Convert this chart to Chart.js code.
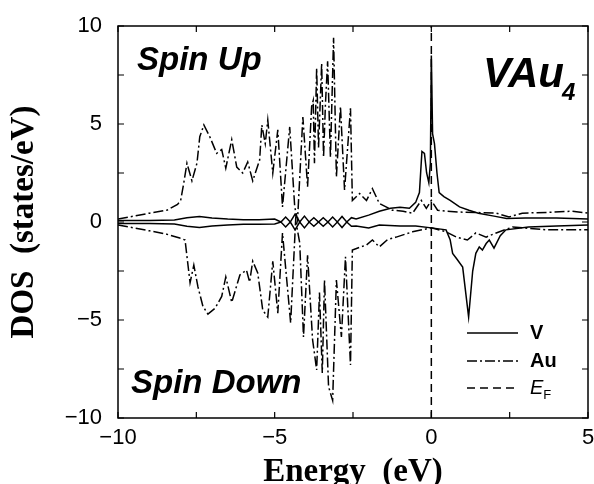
<!DOCTYPE html>
<html>
<head>
<meta charset="utf-8">
<script src="https://cdn.jsdelivr.net/npm/chart.js@4"></script>
<style>
  html, body { margin: 0; padding: 0; background: #fff; }
  #wrap { width: 594px; height: 484px; }
</style>
</head>
<body>
<div id="wrap"><canvas id="dosChart" width="594" height="484"></canvas></div>
<script>
// axis ticks
const xTicks = [-10, -5, 0, 5];
const yTicks = [-10, -5, 0, 5, 10];

// V, spin up
const vUpE = [-10, -9, -8.2, -7.8, -7.4, -7.0, -6.5, -6.0, -5.5, -5.0,
  -4.8, -4.65, -4.5, -4.35, -4.2, -4.05, -3.9, -3.75, -3.6, -3.45, -3.3, -3.15, -3.0, -2.85, -2.7, -2.55,
  -2.4, -2.0, -1.66, -1.3, -1.0, -0.7, -0.5, -0.38, -0.3, -0.22, -0.15, -0.08, -0.03, 0.0, 0.04, 0.1,
  0.18, 0.25, 0.4, 0.6, 0.9, 1.2, 1.5, 2.0, 2.4, 3.0, 4.0, 5.0];
const vUpY = [0.08, 0.08, 0.1, 0.22, 0.28, 0.2, 0.15, 0.12, 0.12, 0.15,
  0.0, 0.25, 0.0, 0.4, 0.0, 0.3, 0.0, 0.22, 0.0, 0.22, 0.0, 0.25, 0.0, 0.28, 0.0, 0.22,
  0.15, 0.35, 0.55, 0.7, 0.75, 0.7, 1.0, 1.5, 3.6, 3.5, 2.5, 2.0, 3.0, 8.5, 4.5, 4.0,
  2.5, 1.5, 1.3, 1.1, 0.77, 0.6, 0.45, 0.3, 0.18, 0.2, 0.2, 0.15];

// V, spin down
const vDnE = [-10, -9, -8.2, -7.8, -7.4, -7.0, -6.5, -6.0, -5.5, -5.0,
  -4.8, -4.65, -4.5, -4.35, -4.2, -4.05, -3.9, -3.75, -3.6, -3.45, -3.3, -3.15, -3.0, -2.85, -2.7, -2.55,
  -2.4, -2.0, -1.66, -1.0, -0.5, 0.0, 0.47, 0.6, 0.68, 0.82, 1.0, 1.19, 1.32, 1.42, 1.53, 1.63,
  1.75, 1.85, 2.0, 2.2, 2.38, 3.1, 4.0, 5.0];
const vDnY = [-0.08, -0.08, -0.1, -0.22, -0.28, -0.2, -0.15, -0.12, -0.12, -0.1,
  0.0, -0.25, 0.0, -0.4, 0.0, -0.3, 0.0, -0.22, 0.0, -0.22, 0.0, -0.25, 0.0, -0.28, 0.0, -0.22,
  -0.2, -0.3, -0.15, -0.2, -0.2, -0.3, -0.4, -0.9, -1.6, -1.9, -2.3, -4.85, -2.5, -1.6, -1.27, -1.43,
  -1.1, -0.92, -1.33, -0.7, -0.4, -0.25, -0.2, -0.15];

// Au, spin up
const auUpE = [-10, -9.5, -9, -8.44, -8.1, -8.0, -7.9, -7.8, -7.64, -7.48, -7.39, -7.26, -7.07, -6.85,
  -6.69, -6.56, -6.37, -6.21, -6.02, -5.86, -5.7, -5.48, -5.41, -5.3, -5.22, -5.06, -4.9, -4.75, -4.52,
  -4.36, -4.27, -4.1, -3.95, -3.82, -3.77, -3.73, -3.66, -3.6, -3.5, -3.44, -3.38, -3.31, -3.22, -3.12,
  -3.03, -2.9, -2.77, -2.58, -2.52, -2.29, -2.07, -1.88, -1.66, -1.24, -0.9, -0.6, -0.32, -0.16, 0.0,
  0.2, 0.5, 1.0, 1.5, 2.07, 2.48, 2.9, 3.85, 4.5, 5.0];
const auUpY = [0.15, 0.3, 0.45, 0.6, 0.9, 1.1, 2.0, 3.0, 2.1, 3.0, 4.35, 4.95, 4.35, 3.5,
  3.7, 2.75, 4.2, 2.8, 2.5, 3.06, 2.1, 3.16, 4.95, 4.0, 5.2, 2.5, 4.7, 0.77, 4.85,
  0.77, 0.1, 5.36, 1.8, 5.9, 6.2, 3.0, 7.85, 3.8, 8.1, 3.3, 6.0, 8.2, 3.3, 9.4,
  2.3, 5.9, 1.63, 5.8, 1.1, 1.45, 1.1, 1.7, 0.95, 0.6, 0.55, 0.45, 1.1, 0.7, 1.1,
  0.6, 0.55, 0.5, 0.48, 0.45, 0.26, 0.45, 0.5, 0.55, 0.45];

// Au, spin down
const auDnE = [-10, -9.5, -9, -8.5, -8.03, -7.86, -7.7, -7.58, -7.45, -7.29, -7.13, -6.9, -6.69, -6.56,
  -6.37, -6.11, -5.9, -5.8, -5.7, -5.54, -5.38, -5.22, -5.06, -4.9, -4.75, -4.49, -4.33, -4.2, -4.08,
  -3.95, -3.79, -3.66, -3.57, -3.48, -3.41, -3.28, -3.15, -3.03, -2.87, -2.74, -2.58, -2.52, -2.3,
  -2.07, -1.88, -1.66, -1.4, -1.12, -0.6, 0.0, 0.47, 0.8, 1.15, 1.42, 1.75, 2.07, 2.6, 3.66, 5.0];
const auDnY = [-0.15, -0.3, -0.45, -0.6, -0.82, -0.92, -3.1, -2.2, -3.3, -4.3, -4.7, -4.4, -3.8, -2.8,
  -4.1, -2.7, -2.45, -3.06, -2.0, -2.6, -4.5, -4.85, -2.0, -4.65, -0.56, -5.15, 0.1, -1.07, -5.87,
  -1.7, -6.0, -7.55, -3.6, -7.7, -2.96, -8.4, -9.1, -2.96, -5.87, -1.78, -7.3, -1.43, -1.3,
  -1.17, -0.92, -1.27, -0.9, -0.77, -0.5, -0.3, -0.5, -0.77, -0.92, -0.56, -0.77, -0.56, -0.25, -0.4, -0.4];

// Fermi level
const fermiE = [0, 0];
const fermiY = [-10, 10];

const pts = (xs, ys) => xs.map((x, i) => ({ x: x, y: ys[i] }));
const dashDot = [10, 3, 2, 3];
const dashed = [8, 5];

const frame = {
  id: 'frame',
  afterDraw(chart) {
    const { ctx, chartArea: a, scales: { x, y } } = chart;
    ctx.save();
    ctx.strokeStyle = '#000';
    ctx.lineWidth = 1.5;
    ctx.strokeRect(a.left, a.top, a.right - a.left, a.bottom - a.top);
    ctx.lineWidth = 1.2;
    ctx.beginPath();
    for (let v = -10; v <= 5.001; v += 2.5) {
      const px = x.getPixelForValue(v);
      ctx.moveTo(px, a.bottom); ctx.lineTo(px, a.bottom - 6);
      ctx.moveTo(px, a.top); ctx.lineTo(px, a.top + 6);
    }
    for (let v = -10; v <= 10.001; v += 2.5) {
      const py = y.getPixelForValue(v);
      ctx.moveTo(a.left, py); ctx.lineTo(a.left + 6, py);
      ctx.moveTo(a.right, py); ctx.lineTo(a.right - 6, py);
    }
    ctx.stroke();

    // annotations
    ctx.fillStyle = '#000';
    ctx.textBaseline = 'alphabetic';
    ctx.font = 'italic bold 33px "Liberation Sans", Arial, sans-serif';
    ctx.fillText('Spin Up', 137, 70);
    ctx.fillText('Spin Down', 131, 393);
    ctx.font = 'italic bold 42px "Liberation Sans", Arial, sans-serif';
    ctx.fillText('VAu', 483, 87);
    const w = ctx.measureText('VAu').width;
    ctx.font = 'italic bold 24px "Liberation Sans", Arial, sans-serif';
    ctx.fillText('4', 483 + w - 2, 100);

    // legend
    const rows = [
      { dash: [], label: 'V', y: 333 },
      { dash: dashDot, label: 'Au', y: 361 },
      { dash: dashed, label: 'E', sub: 'F', y: 388 }
    ];
    rows.forEach(r => {
      ctx.setLineDash(r.dash);
      ctx.lineWidth = 1.5;
      ctx.beginPath();
      ctx.moveTo(467, r.y); ctx.lineTo(518, r.y);
      ctx.stroke();
      ctx.setLineDash([]);
      ctx.textBaseline = 'middle';
      if (r.sub) {
        ctx.font = 'italic 20px "Liberation Sans", Arial, sans-serif';
        ctx.fillText(r.label, 530, r.y);
        const lw = ctx.measureText(r.label).width;
        ctx.font = '13px "Liberation Sans", Arial, sans-serif';
        ctx.fillText(r.sub, 530 + lw, r.y + 7);
      } else {
        ctx.font = 'bold 20px "Liberation Sans", Arial, sans-serif';
        ctx.fillText(r.label, 530, r.y);
      }
    });
    ctx.restore();
  }
};

const minus = v => (v < 0 ? '\u2212' + Math.abs(v) : String(v));

new Chart(document.getElementById('dosChart'), {
  type: 'line',
  data: {
    datasets: [
      { label: 'V up', data: pts(vUpE, vUpY), borderDash: [] },
      { label: 'V down', data: pts(vDnE, vDnY), borderDash: [] },
      { label: 'Au up', data: pts(auUpE, auUpY), borderDash: dashDot },
      { label: 'Au down', data: pts(auDnE, auDnY), borderDash: dashDot },
      { label: 'EF', data: pts(fermiE, fermiY), borderDash: dashed }
    ].map(d => Object.assign(d, {
      borderColor: '#000', borderWidth: 1.5, pointRadius: 0, tension: 0, fill: false
    }))
  },
  options: {
    responsive: false,
    animation: false,
    devicePixelRatio: 1,
    layout: { padding: { top: 26, right: 6, left: 0, bottom: 0 } },
    plugins: { legend: { display: false }, tooltip: { enabled: false } },
    scales: {
      x: {
        type: 'linear', min: -10, max: 5,
        afterFit: s => { s.height = 66; s.paddingRight = 0; s.paddingLeft = 0; },
        afterBuildTicks: s => { s.ticks = xTicks.map(v => ({ value: v })); },
        grid: { display: false, drawTicks: false },
        border: { display: false },
        ticks: {
          padding: 7, color: '#000', maxRotation: 0,
          font: { family: '"Liberation Sans", Arial, sans-serif', size: 22 },
          callback: v => minus(v)
        },
        title: {
          display: true, text: 'Energy  (eV)', color: '#000',
          padding: { top: 0, bottom: -8 },
          font: { family: '"Liberation Serif", "Times New Roman", serif', size: 33, weight: 'bold' }
        }
      },
      y: {
        type: 'linear', min: -10, max: 10,
        afterFit: s => { s.width = 118; s.paddingTop = 0; s.paddingBottom = 0; },
        afterBuildTicks: s => { s.ticks = yTicks.map(v => ({ value: v })); },
        grid: { display: false, drawTicks: false },
        border: { display: false },
        ticks: {
          padding: 16, color: '#000',
          font: { family: '"Liberation Sans", Arial, sans-serif', size: 22 },
          callback: v => minus(v)
        },
        title: {
          display: true, text: 'DOS  (states/eV)', color: '#000',
          padding: { top: 5, bottom: 0 },
          font: { family: '"Liberation Serif", "Times New Roman", serif', size: 33, weight: 'bold' }
        }
      }
    }
  },
  plugins: [frame]
});
</script>
</body>
</html>
